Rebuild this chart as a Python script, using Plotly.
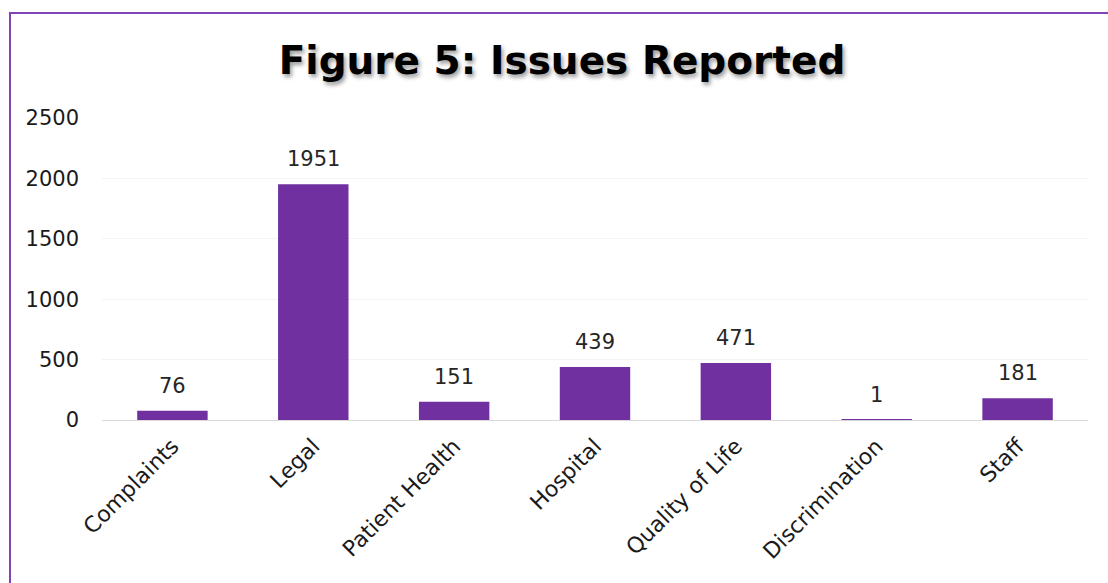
import plotly.graph_objects as go

categories = ["Complaints", "Legal", "Patient Health", "Hospital", "Quality of Life", "Discrimination", "Staff"]
values = [76, 1951, 151, 439, 471, 1, 181]
y_ticks = [0, 500, 1000, 1500, 2000, 2500]

FONT = "DejaVu Sans"
BAR = "#7030A0"

fig = go.Figure(go.Bar(
    x=categories, y=values, marker=dict(color=BAR, line=dict(width=0)),
    width=0.5, hoverinfo="x+y",
))

for c, v in zip(categories, values):
    fig.add_annotation(x=c, y=v, text=str(v), showarrow=False, yanchor="bottom",
                       yshift=11, font=dict(family=FONT, size=21, color="#262626"))

L, R, T, B = 102, 20, 118, 163
fig.update_layout(
    width=1108, height=583,
    margin=dict(l=L, r=R, t=T, b=B),
    paper_bgcolor="white", plot_bgcolor="white",
    showlegend=False,
    title=dict(text="<b>Figure 5: Issues Reported</b>", x=562/1108, xanchor="center",
               y=1-60/583, yanchor="middle",
               font=dict(family="DejaVu Sans", size=39, color="#000000",
                         shadow="2px 3px 4px rgba(0,0,0,0.4)")),
    xaxis=dict(tickangle=-45, tickfont=dict(family=FONT, size=22, color="#1a1a1a"),
               showgrid=False, showline=False, ticks="", ticklabelstandoff=8),
    yaxis=dict(range=[0, 2500], tickvals=y_ticks, tickfont=dict(family=FONT, size=21, color="#1a1a1a"),
               showgrid=True, gridcolor="#F3F3F3", gridwidth=1, zeroline=True,
               zerolinecolor="#D9D9D9", zerolinewidth=1, showline=False, ticks="",
               ticklabelstandoff=22),
)

pw = 1108 - L - R
ph = 583 - T - B
fig.add_shape(type="rect", xref="paper", yref="paper",
              x0=(10 - L) / pw, x1=(1130 - L) / pw,
              y0=(583 - B - 620) / ph, y1=(583 - B - 13) / ph,
              line=dict(color="#7F44B8", width=2), fillcolor="rgba(0,0,0,0)", layer="below")

fig.write_html("out.html")
